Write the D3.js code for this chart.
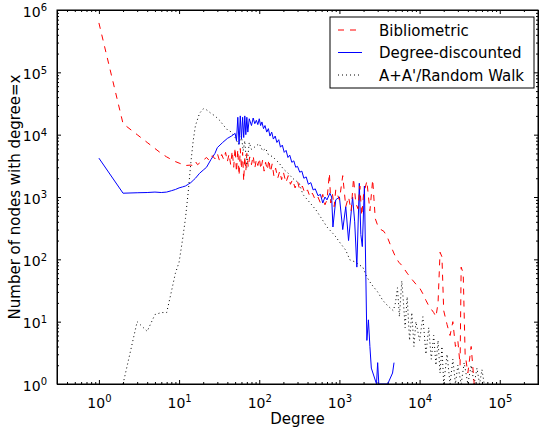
<!DOCTYPE html>
<html>
<head>
<meta charset="utf-8">
<script src="https://cdn.jsdelivr.net/npm/d3@7"></script>
<style>
  body { margin: 0; background: white; }
  text { font-family: "DejaVu Sans", sans-serif; fill: black; }
</style>
</head>
<body>
<div id="chart"></div>
<script>
// series: degree (x) and number of nodes (y)
var bibDegree = [1, 2, 3, 4, 5, 6, 7, 8, 9, 10, 12, 14, 15, 16, 17, 18, 20, 22, 24, 26, 28, 30, 32, 34, 36, 38, 40, 42, 44, 46, 48, 50, 52, 54, 56, 58, 60, 62, 64, 66, 68, 70, 73, 76, 80, 84, 88, 92, 96, 100, 105, 110, 115, 120, 126, 132, 138, 145, 152, 160, 170, 180, 190, 200, 215, 230, 245, 260, 280, 300, 320, 345, 370, 400, 430, 460, 500, 540, 580, 620, 660, 700, 750, 780, 820, 860, 900, 1000, 1100, 1200, 1300, 1400, 1500, 1600, 1700, 1800, 1900, 2000, 2200, 2400, 2600, 2800, 3000, 3300, 3600, 4000, 4500, 5000, 5500, 6000, 7000, 8000, 9000, 10000, 11000, 12000, 13000, 15000, 16000, 17000, 18000, 19000, 20000, 22000, 24000, 26000, 28000, 30000, 32000, 33000, 35000, 37000, 40000, 44000, 48000];
var bibCount = [620000, 15000, 10000, 7500, 6000, 5000, 4400, 4000, 3700, 3500, 3200, 3250, 3200, 3700, 3300, 3500, 3900, 4300, 3800, 4600, 4100, 5000, 3800, 4800, 4000, 5200, 3700, 4900, 3300, 5500, 3000, 6200, 2500, 5800, 2200, 6000, 2800, 5200, 1800, 4500, 2600, 5000, 3000, 4400, 3300, 4600, 2900, 4000, 3200, 4200, 2800, 3900, 2600, 3600, 2700, 4000, 2500, 3400, 2200, 2900, 2000, 2600, 1900, 2500, 1700, 2200, 1600, 1900, 1400, 1800, 1300, 1500, 1150, 1300, 1000, 1150, 900, 1000, 800, 1100, 750, 900, 2400, 800, 1100, 700, 1300, 900, 2200, 700, 1000, 600, 2000, 800, 650, 1500, 500, 1100, 1800, 600, 1900, 450, 350, 300, 280, 220, 150, 110, 90, 80, 60, 48, 40, 35, 28, 22, 18, 14, 12, 20, 130, 110, 15, 9, 6, 10, 4, 5, 2, 75, 60, 3, 1.5, 4, 1];

var ddDegree = [1, 2, 3, 4, 5, 6, 7, 8, 9, 10, 11, 12, 13, 14, 15, 16, 18, 20, 22, 25, 28, 30, 35, 40, 45, 50, 52, 54, 56, 58, 60, 62, 64, 66, 68, 70, 72, 75, 80, 84, 88, 92, 96, 100, 104, 108, 113, 118, 124, 130, 136, 143, 150, 158, 166, 175, 184, 194, 205, 216, 228, 240, 255, 270, 285, 300, 320, 340, 360, 385, 410, 440, 470, 500, 540, 580, 620, 660, 700, 760, 800, 830, 900, 1000, 1100, 1200, 1300, 1460, 1550, 1650, 1770, 1850, 1930, 2050, 2200, 2300, 2400, 2500, 2900, 3000, 3100, 3300, 4000, 4600, 4800];
var ddCount = [4200, 1150, 1170, 1180, 1200, 1180, 1200, 1260, 1320, 1400, 1450, 1500, 1600, 1700, 1850, 2000, 2400, 2700, 3000, 4000, 5000, 6200, 7500, 8700, 9500, 10500, 8000, 19000, 7000, 20000, 8500, 19000, 9000, 20000, 10000, 19000, 11000, 18000, 14000, 18500, 15000, 17000, 14500, 18000, 14000, 16000, 12500, 14000, 11000, 12500, 9500, 11000, 8500, 9500, 7500, 8300, 6300, 6800, 5200, 5600, 4300, 4700, 3600, 3800, 3000, 3100, 2500, 2600, 2000, 2100, 1600, 1700, 1300, 1350, 1050, 1100, 800, 1000, 900, 1150, 1000, 330, 900, 1000, 300, 700, 200, 1000, 400, 75, 1660, 250, 160, 1500, 5, 10.7, 4, 1.8, 1, 2.2, 1, 1, 1, 1.5, 2.2];

var rwDegree = [2, 3, 4, 5, 6, 7, 8, 9, 10, 11, 12, 13, 14, 15, 16, 18, 20, 22, 25, 28, 32, 36, 40, 45, 50, 55, 60, 63, 66, 70, 75, 80, 90, 100, 110, 120, 130, 148, 178, 200, 230, 260, 316, 350, 400, 510, 600, 700, 830, 900, 1000, 1200, 1350, 1600, 1800, 1950, 2200, 2500, 3000, 3470, 4000, 4700, 5000, 5300, 5600, 6000, 6300, 6600, 7000, 7500, 8000, 8500, 9000, 10000, 11000, 12000, 13000, 14000, 15000, 16000, 17000, 18000, 19000, 20000, 22000, 24000, 26000, 28000, 30000, 33000, 36000, 40000, 44000, 48000, 52000, 56000, 60000, 64000];
var rwCount = [1, 10, 7, 13, 14, 14, 30, 60, 90, 200, 450, 1200, 3500, 8000, 14000, 22000, 26000, 25000, 22000, 20000, 17000, 14000, 12000, 11000, 9000, 7000, 9500, 5500, 8000, 3000, 7500, 5800, 6500, 7200, 5500, 6000, 4800, 4400, 3470, 2800, 2400, 2000, 1660, 1100, 900, 620, 450, 330, 260, 230, 190, 140, 98, 90, 80, 76, 52, 40, 30, 22, 18, 15, 20, 35, 12, 45, 20, 8, 25, 5, 14, 4, 10, 5, 12, 3, 8, 2.5, 6, 2, 5, 1.5, 4, 1, 3, 1, 2.5, 1, 2, 1, 2.2, 1, 2, 1, 1.8, 1, 1.7, 1];

var xTickValues = [1, 10, 100, 1000, 10000, 100000];
var yTickValues = [1, 10, 100, 1000, 10000, 100000, 1000000];
var legendLabels = ["Bibliometric", "Degree-discounted", "A+A'/Random Walk"];

var width = 539;
var height = 432;
var plotLeft = 57, plotRight = 538, plotTop = 10, plotBottom = 384;

var svg = d3.select("#chart")
    .append("svg")
    .attr("width", width)
    .attr("height", height)

var x = d3.scaleLog().domain([0.3, 3e5]).range([plotLeft, plotRight])
var y = d3.scaleLog().domain([1, 1e6]).range([plotBottom, plotTop])

svg.append("clipPath")
    .attr("id", "plotClip")
    .append("rect")
    .attr("x", plotLeft)
    .attr("y", plotTop)
    .attr("width", plotRight - plotLeft)
    .attr("height", plotBottom - plotTop)

var minorX = [];
for (var e = -1; e <= 5; e++) {
    for (var m = 2; m <= 9; m++) {
        var v = m * Math.pow(10, e);
        if (v > 0.3 && v < 3e5) minorX.push(v);
    }
}
var minorY = [];
for (var e = 0; e < 6; e++) {
    for (var m = 2; m <= 9; m++) minorY.push(m * Math.pow(10, e));
}

function supLabel(sel) {
    sel.each(function(d) {
        var t = d3.select(this);
        var p = Math.round(Math.log10(d));
        t.text(null);
        t.append("tspan").text("10");
        t.append("tspan").attr("dy", "-0.55em").style("font-size", "10px").text(p);
    })
}

// bottom axis
var gx = svg.append("g")
    .attr("transform", "translate(0," + plotBottom + ")")
    .call(d3.axisBottom(x).tickValues(xTickValues).tickSize(-4).tickPadding(14))
gx.selectAll("text").style("font-size", "14px").call(supLabel)
svg.append("g")
    .attr("transform", "translate(0," + plotBottom + ")")
    .call(d3.axisBottom(x).tickValues(minorX).tickSize(-2).tickFormat(""))

// top axis
svg.append("g")
    .attr("transform", "translate(0," + plotTop + ")")
    .call(d3.axisTop(x).tickValues(xTickValues).tickSize(-4).tickFormat(""))
svg.append("g")
    .attr("transform", "translate(0," + plotTop + ")")
    .call(d3.axisTop(x).tickValues(minorX).tickSize(-2).tickFormat(""))

// left axis
var gy = svg.append("g")
    .attr("transform", "translate(" + plotLeft + ",0)")
    .call(d3.axisLeft(y).tickValues(yTickValues).tickSize(-4).tickPadding(10))
gy.selectAll("text").style("font-size", "14px").attr("dy", "0.45em").call(supLabel)
svg.append("g")
    .attr("transform", "translate(" + plotLeft + ",0)")
    .call(d3.axisLeft(y).tickValues(minorY).tickSize(-2).tickFormat(""))

// right axis
svg.append("g")
    .attr("transform", "translate(" + plotRight + ",0)")
    .call(d3.axisRight(y).tickValues(yTickValues).tickSize(-4).tickFormat(""))
svg.append("g")
    .attr("transform", "translate(" + plotRight + ",0)")
    .call(d3.axisRight(y).tickValues(minorY).tickSize(-2).tickFormat(""))

svg.selectAll(".domain").style("stroke", "black")
svg.selectAll(".tick line").style("stroke", "black")

var line = d3.line()
    .x(function(d) { return x(d[0]); })
    .y(function(d) { return y(d[1]); })

var series = [
    { xs: rwDegree, ys: rwCount, color: "black", dash: "1,3" },
    { xs: ddDegree, ys: ddCount, color: "#0000ff", dash: null },
    { xs: bibDegree, ys: bibCount, color: "#ff0000", dash: "6,6" }
];

var plot = svg.append("g").attr("clip-path", "url(#plotClip)")
series.forEach(function(s) {
    var pts = s.xs.map(function(d, i) { return [d, s.ys[i]]; });
    plot.append("path")
        .datum(pts)
        .attr("d", line)
        .attr("fill", "none")
        .attr("stroke", s.color)
        .attr("stroke-width", 1)
        .attr("stroke-dasharray", s.dash)
})

// frame on top
svg.append("rect")
    .attr("x", plotLeft)
    .attr("y", plotTop)
    .attr("width", plotRight - plotLeft)
    .attr("height", plotBottom - plotTop)
    .attr("fill", "none")
    .attr("stroke", "black")

// legend
var legend = svg.append("g")
legend.append("rect")
    .attr("x", 330)
    .attr("y", 17)
    .attr("width", 204)
    .attr("height", 71)
    .attr("fill", "white")
    .attr("stroke", "black")

var legendItems = [
    { color: "#ff0000", dash: "6,6" },
    { color: "#0000ff", dash: null },
    { color: "black", dash: "1,3" }
];
legendLabels.forEach(function(label, i) {
    var ly = 30 + i * 22.5;
    legend.append("line")
        .attr("x1", 338).attr("x2", 362)
        .attr("y1", ly).attr("y2", ly)
        .attr("stroke", legendItems[i].color)
        .attr("stroke-dasharray", legendItems[i].dash)
    legend.append("text")
        .attr("x", 379)
        .attr("y", ly + 5.5)
        .style("font-size", "15px")
        .text(label)
})

svg.append("text")
    .attr("x", (plotLeft + plotRight) / 2)
    .attr("y", 424)
    .attr("text-anchor", "middle")
    .style("font-size", "15px")
    .text("Degree")

svg.append("text")
    .attr("transform", "translate(20," + ((plotTop + plotBottom) / 2) + ") rotate(-90)")
    .attr("text-anchor", "middle")
    .style("font-size", "15px")
    .text("Number of nodes with degree=x")
</script>
</body>
</html>
